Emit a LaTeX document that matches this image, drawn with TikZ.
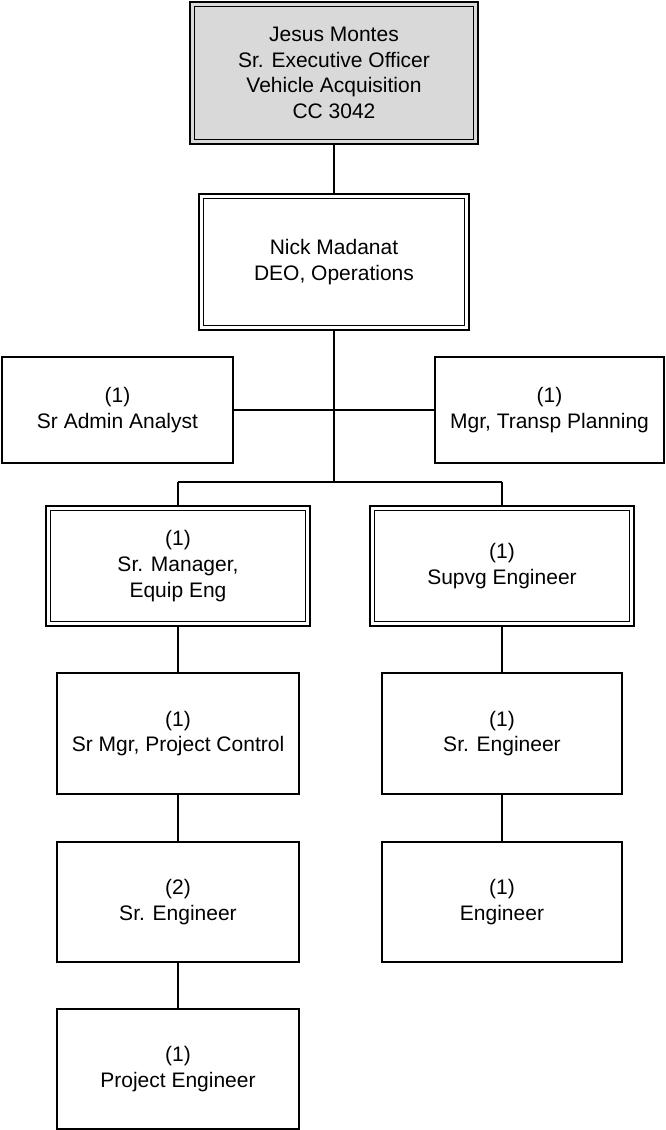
\documentclass[tikz,border=0pt]{standalone}
\usepackage{fontspec}
\setmainfont{Liberation Sans}
\usetikzlibrary{calc}
\definecolor{boxgray}{RGB}{217,217,217}
\begin{document}
\begin{tikzpicture}[x=1pt,y=-1pt,
  box/.style={draw, line width=2pt, align=center, inner sep=0pt, outer sep=0pt,
    font=\fontsize{21}{25.6}\selectfont},
  sz/.style 2 args={minimum width=#1pt, minimum height=#2pt},
  conn/.style={line width=2pt},
  innerframe/.style={line width=1.8pt}]
\useasboundingbox (0,0) rectangle (665,1130);

\node[box, fill=boxgray, sz={288}{142}] (top) at (334,73) {Jesus Montes\\Sr. Executive Officer\\Vehicle Acquisition\\CC 3042};
\node[box, sz={270}{136}] (nick) at (334,262) {Nick Madanat\\DEO, Operations};
\node[box, sz={231}{106}] (admin) at (117.5,410) {(1)\\Sr Admin Analyst};
\node[box, sz={229}{106}] (mgr) at (549.5,410) {(1)\\Mgr, Transp Planning};
\node[box, sz={264}{120}] (srmgr) at (178,566) {(1)\\Sr. Manager,\\Equip Eng};
\node[box, sz={264}{120}] (supvg) at (502,566) {(1)\\Supvg Engineer};
\node[box, sz={242}{121}] (pc) at (178,733.5) {(1)\\Sr Mgr, Project Control};
\node[box, sz={240}{121}] (se1) at (502,733.5) {(1)\\Sr. Engineer};
\node[box, sz={242}{120}] (se2) at (178,902) {(2)\\Sr. Engineer};
\node[box, sz={240}{120}] (eng) at (502,902) {(1)\\Engineer};
\node[box, sz={242}{120}] (pe) at (178,1069) {(1)\\Project Engineer};

\foreach \n in {top,nick,srmgr,supvg}
  \draw[innerframe] ($(\n.north west)+(4.5,4.5)$) rectangle ($(\n.south east)+(-4.5,-4.5)$);

\coordinate (hub) at (334,482);
\coordinate (bl) at (178,482);
\coordinate (br) at (502,482);

\draw[conn] (top.south) -- (nick.north);
\draw[conn] (nick.south) -- (hub);
\draw[conn] (admin.east) -- (mgr.west);
\draw[conn] (bl) -- (br);
\draw[conn] (bl) -- (srmgr.north);
\draw[conn] (br) -- (supvg.north);
\draw[conn] (srmgr.south) -- (pc.north);
\draw[conn] (pc.south) -- (se2.north);
\draw[conn] (se2.south) -- (pe.north);
\draw[conn] (supvg.south) -- (se1.north);
\draw[conn] (se1.south) -- (eng.north);
\end{tikzpicture}
\end{document}
